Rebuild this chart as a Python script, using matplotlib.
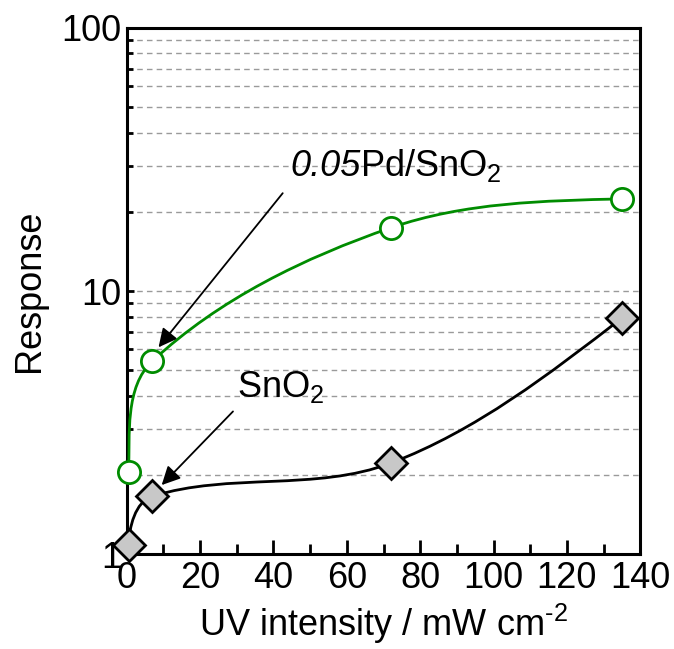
import numpy as np
import matplotlib.pyplot as plt
from matplotlib.path import Path
from matplotlib.patches import PathPatch

plt.rcParams['font.family'] = ['Liberation Sans', 'DejaVu Sans']
plt.rcParams['mathtext.fontset'] = 'custom'
plt.rcParams['mathtext.rm'] = 'Liberation Sans'
plt.rcParams['mathtext.it'] = 'Liberation Sans:italic'
plt.rcParams['mathtext.bf'] = 'Liberation Sans:bold'

# UV intensity (mW cm-2) and response
uv_sno2 = [0.5, 7, 72, 135]
resp_sno2 = [1.08, 1.66, 2.22, 7.9]
uv_pd = [0.5, 7, 72, 135]
resp_pd = [2.05, 5.42, 17.4, 22.4]

GREEN = '#008c00'
SX, SY = 513 / 140.0, 263.0


def smooth_path(x, y):
    # smooth curve through the points, built in screen-like (x, log y) space
    P = np.column_stack([np.array(x) * SX, np.log10(y) * SY])
    n = len(P)
    T = np.zeros_like(P)
    for i in range(1, n - 1):
        d = P[i + 1] - P[i - 1]
        T[i] = d / np.linalg.norm(d)
    u0 = (P[1] - P[0]) / np.linalg.norm(P[1] - P[0])
    T[0] = 2 * u0 - T[1]
    T[0, 0] = max(T[0, 0], 0.05)
    T[0] /= np.linalg.norm(T[0])
    un = (P[-1] - P[-2]) / np.linalg.norm(P[-1] - P[-2])
    T[-1] = 1.5 * un - 0.5 * T[-2]
    T[-1] /= np.linalg.norm(T[-1])
    verts = [P[0]]
    codes = [Path.MOVETO]
    for i in range(n - 1):
        L = np.linalg.norm(P[i + 1] - P[i]) / 3
        verts += [P[i] + T[i] * L, P[i + 1] - T[i + 1] * L, P[i + 1]]
        codes += [Path.CURVE4] * 3
    V = np.array(verts)
    V[:, 0] = V[:, 0] / SX
    V[:, 1] = 10 ** (V[:, 1] / SY)
    return Path(V, codes)


fig = plt.figure(figsize=(6.74, 6.49), dpi=100)
ax = fig.add_axes([0.188, 0.146, 0.762, 0.811])
ax.set_yscale('log')
ax.set_xlim(0, 140)
ax.set_ylim(1, 100)

ax.grid(True, which='both', axis='y', linestyle=(0, (4, 3)), color='#9a9a9a', linewidth=1)
ax.set_axisbelow(True)

ax.add_patch(PathPatch(smooth_path(uv_sno2, resp_sno2), fill=False, color='black', lw=2, zorder=3))
ax.add_patch(PathPatch(smooth_path(uv_pd, resp_pd), fill=False, color=GREEN, lw=2, zorder=3))

ax.plot(uv_sno2, resp_sno2, 'D', ms=16, mfc='#c8c8c8', mec='black', mew=2, ls='none', zorder=4, clip_on=False)
ax.plot(uv_pd, resp_pd, 'o', ms=16, mfc='white', mec=GREEN, mew=2, ls='none', zorder=4, clip_on=False)

ax.set_xticks(range(0, 141, 20))
ax.set_xticks(range(10, 140, 20), minor=True)
ax.set_yticks([1, 10, 100])
ax.set_yticklabels(['1', '10', '100'])
ax.tick_params(axis='x', which='major', direction='in', length=10, width=2, labelsize=26, pad=5)
ax.tick_params(axis='x', which='minor', direction='in', length=7, width=2)
ax.tick_params(axis='y', which='major', direction='in', length=5, width=2, labelsize=26, pad=4)
ax.tick_params(axis='y', which='minor', direction='in', length=4, width=2, labelleft=False)
for s in ax.spines.values():
    s.set_linewidth(2.2)

ax.set_xlabel('UV intensity / mW cm$^{\u2010\\mathrm{2}}$', fontsize=26, labelpad=4)
ax.set_ylabel('Response', fontsize=26, labelpad=10)

ax.annotate('', xy=(8.2, 6.0), xytext=(43, 24),
            arrowprops=dict(arrowstyle='-|>', color='black', lw=1.3, mutation_scale=28))
t1 = ax.text(44.5, 27.4, '0.05', fontsize=26, style='italic', va='baseline', ha='left')
ax.annotate('', xy=(9, 1.8), xytext=(29.5, 3.55),
            arrowprops=dict(arrowstyle='-|>', color='black', lw=1.3, mutation_scale=28))
ax.text(30, 3.95, 'SnO$_\\mathrm{2}$', fontsize=26, va='baseline', ha='left')

# place the upright part right after the italic number, same baseline
fig.canvas.draw()
bb = t1.get_window_extent()
base = ax.transData.transform((44.5, 27.4))
xd, yd = ax.transData.inverted().transform((bb.x1, base[1]))
ax.text(xd, yd, 'Pd/SnO$_\\mathrm{2}$', fontsize=26, va='baseline', ha='left')

fig.savefig('out.png', dpi=100)
